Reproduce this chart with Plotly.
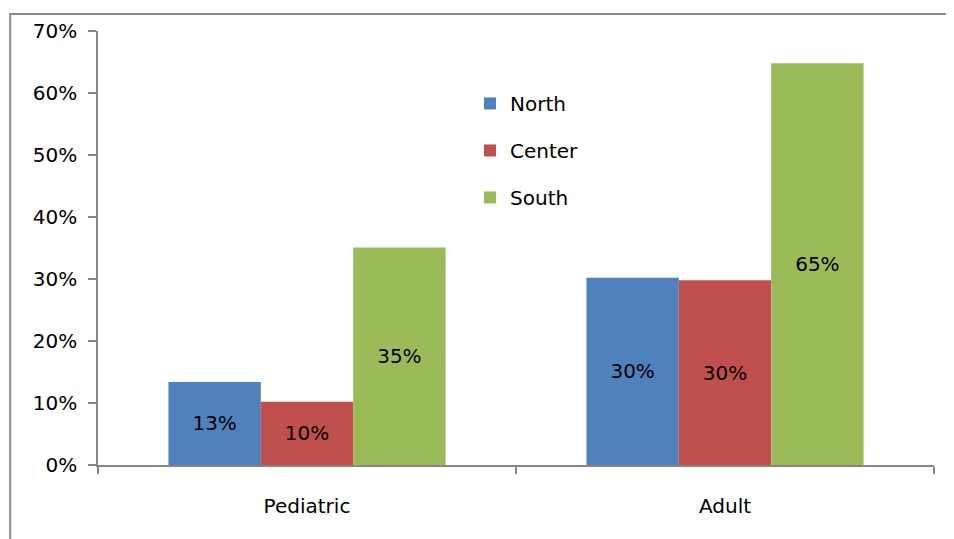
import plotly.graph_objects as go

categories = ["Pediatric", "Adult"]
series_names = ["North", "Center", "South"]
north = [0.134, 0.302]
center = [0.102, 0.298]
south = [0.351, 0.648]
labels_north = ["13%", "30%"]
labels_center = ["10%", "30%"]
labels_south = ["35%", "65%"]
colors = ["#4F81BD", "#C0504D", "#9BBB59"]

FONT = "DejaVu Sans"

fig = go.Figure()
for name, vals, labs, col in zip(series_names, [north, center, south],
                                 [labels_north, labels_center, labels_south], colors):
    fig.add_trace(go.Bar(
        x=categories, y=vals, name=name, marker_color=col,
        marker_line_width=0,
        text=labs, textposition="inside", insidetextanchor="middle",
        textangle=0,
        insidetextfont=dict(family=FONT, size=20, color="black"),
        legendgroup=name,
        hoverinfo="skip",
    ))

fig.update_layout(
    width=946, height=531,
    margin=dict(l=90, r=20, t=23, b=74),
    paper_bgcolor="white", plot_bgcolor="white",
    barmode="group", bargap=0.337, bargroupgap=0,
    font=dict(family=FONT, size=20, color="black"),
    legend=dict(
        x=0.445, y=0.878, xanchor="left", yanchor="top",
        traceorder="grouped", tracegroupgap=18,
        font=dict(family=FONT, size=20, color="black"),
        bgcolor="rgba(0,0,0,0)",
    ),
    xaxis=dict(
        showline=True, linecolor="#868686", linewidth=1.5,
        ticks="outside", tickson="boundaries", ticklen=7, tickcolor="#868686",
        tickwidth=1.5, showgrid=False, ticklabelstandoff=22,
        tickfont=dict(family=FONT, size=20, color="black"),
    ),
    yaxis=dict(
        range=[0, 0.7], dtick=0.1, tickformat=".0%",
        showline=True, linecolor="#868686", linewidth=1.5,
        ticks="outside", ticklen=8, tickcolor="#868686", tickwidth=1.5,
        showgrid=False, zeroline=False, ticklabelstandoff=7,
        tickfont=dict(family=FONT, size=20, color="black"),
    ),
    shapes=[dict(
        type="rect", xref="paper", yref="paper",
        x0=-0.105, x1=1.2, y0=-0.3, y1=1.039,
        line=dict(color="#898989", width=2), fillcolor="rgba(0,0,0,0)",
        layer="below",
    )],
)

fig.write_html("out.html")
